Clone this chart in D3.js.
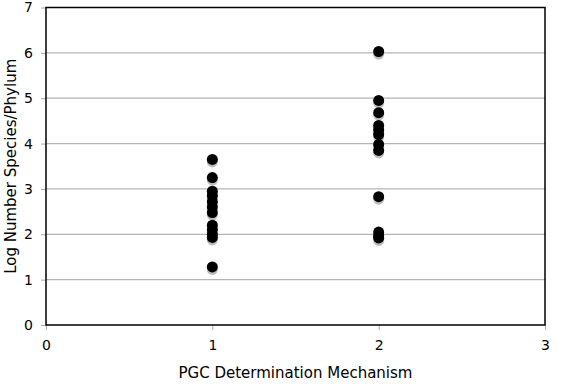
<!DOCTYPE html>
<html>
<head>
<meta charset="utf-8">
<script src="https://d3js.org/d3.v7.min.js"></script>
<style>
    body { margin: 0; background: #fff; }
    text { font-family: "DejaVu Sans", Verdana, sans-serif; fill: #000; }
    .tick text { font-size: 14px; }
    .label { font-size: 15px; }
</style>
</head>
<body>
<div id="chart"></div>
<script>
    // values
    const mechanism1 = [3.65, 3.25, 2.95, 2.85, 2.72, 2.6, 2.48, 2.2, 2.1, 2.0, 1.93, 1.28];
    const mechanism2 = [6.03, 4.95, 4.68, 4.4, 4.3, 4.2, 3.98, 3.85, 2.83, 2.05, 1.97, 1.92];
    const xTicks = [0, 1, 2, 3];
    const yTicks = [0, 1, 2, 3, 4, 5, 6, 7];

    const points = mechanism1.map(v => ({ x: 1, y: v }))
        .concat(mechanism2.map(v => ({ x: 2, y: v })));

    const margin = { top: 7.5, right: 22, bottom: 59, left: 46 },
        width = 567 - margin.left - margin.right,
        height = 384 - margin.top - margin.bottom;

    const svg = d3.select("#chart").append("svg")
        .attr("width", 567).attr("height", 384)
        .append("g")
        .attr("transform", `translate(${margin.left},${margin.top})`);

    const x = d3.scaleLinear().domain([0, 3]).range([0, width]);
    const y = d3.scaleLinear().domain([0, 7]).range([height, 0]);

    // horizontal grid
    svg.append("g")
        .selectAll("line")
        .data(yTicks.slice(1, -1))
        .join("line")
        .attr("x1", 0).attr("x2", width)
        .attr("y1", d => y(d)).attr("y2", d => y(d))
        .attr("stroke", "#b4b4b4").attr("stroke-width", 1.2);

    // axes
    const yAxis = svg.append("g")
        .call(d3.axisLeft(y).tickValues(yTicks).tickSize(5).tickPadding(8).tickFormat(d3.format("d")));
    const xAxis = svg.append("g")
        .attr("transform", `translate(0,${height})`)
        .call(d3.axisBottom(x).tickValues(xTicks).tickSize(5).tickPadding(10).tickFormat(d3.format("d")));
    [yAxis, xAxis].forEach(a => {
        a.select(".domain").remove();
        a.selectAll(".tick line").attr("stroke", "#aaa");
    });

    // frame
    svg.append("rect")
        .attr("width", width).attr("height", height)
        .attr("fill", "none").attr("stroke", "#000").attr("stroke-width", 1.5);

    // shadows then dots
    svg.append("g").selectAll("circle")
        .data(points).join("circle")
        .attr("cx", d => x(d.x)).attr("cy", d => y(d.y) + 2.5)
        .attr("r", 5.5).attr("fill", "#aaa").attr("opacity", 0.8);
    svg.append("g").selectAll("circle")
        .data(points).join("circle")
        .attr("cx", d => x(d.x)).attr("cy", d => y(d.y))
        .attr("r", 5.5).attr("fill", "#000");

    // axis titles
    svg.append("text")
        .attr("class", "label")
        .attr("text-anchor", "middle")
        .attr("x", width / 2).attr("y", height + 53)
        .text("PGC Determination Mechanism");
    svg.append("text")
        .attr("class", "label")
        .attr("text-anchor", "middle")
        .attr("transform", `translate(${-30},${height / 2}) rotate(-90)`)
        .text("Log Number Species/Phylum");
</script>
</body>
</html>
